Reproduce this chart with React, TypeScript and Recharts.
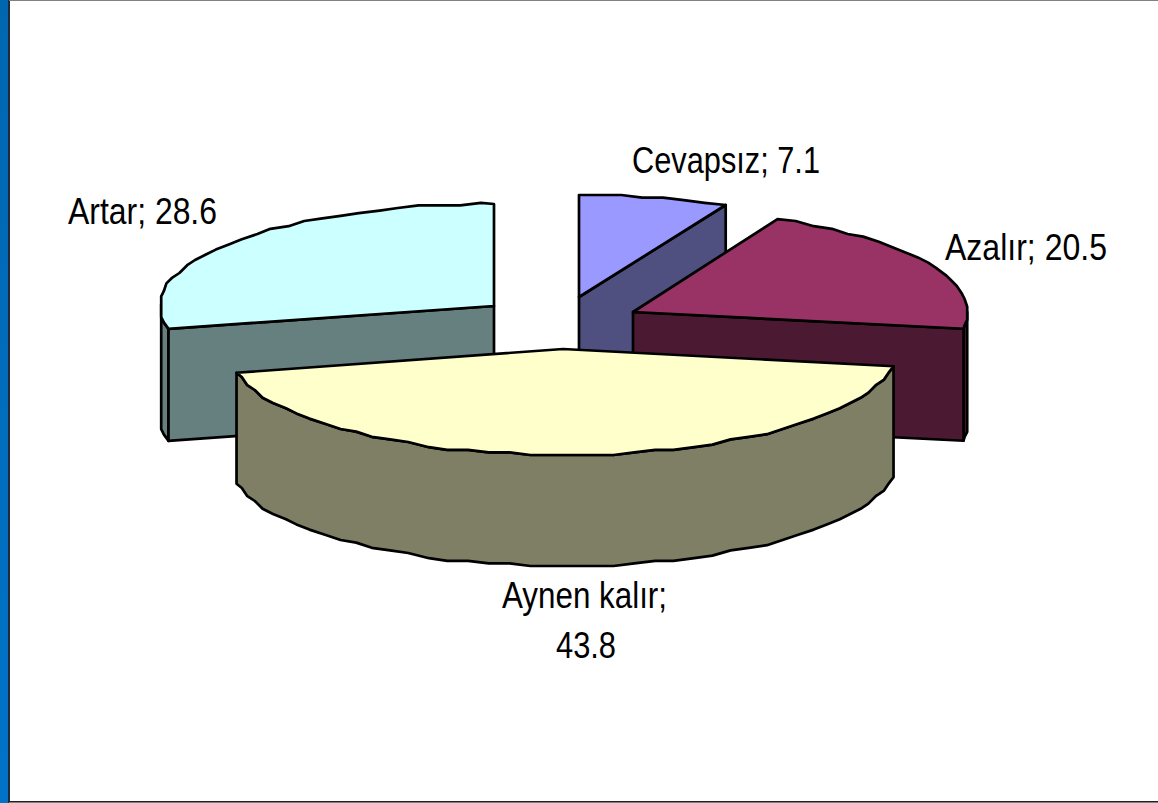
import React from "react";
import { PieChart, Pie } from "recharts";

// Drawn back to front, so the list begins with the slice that sits behind the large front slice.
const categories = ["Artar", "Cevapsız", "Azalır", "Aynen kalır"];
const shares = [28.6, 7.1, 20.5, 43.8];
const labelLines = [["Artar; 28.6"], ["Cevapsız; 7.1"], ["Azalır; 20.5"], ["Aynen kalır;", "43.8"]];

const data = categories.map((name, i) => ({ name, value: shares[i] }));

const W = 1158;
const H = 803;
const PIE_X = 563;
const PIE_Y = 349;
const RADIUS = 335;
const GRID = 2.6;
const STEP = 3.6;

const topColors = ["#CCFFFF", "#9999FF", "#993366", "#FFFFCC"];
const sideColors = ["#667F7F", "#4F4F80", "#4C1933", "#7F7F66"];

// Explosion offset and projected size per slice
const explode = [
  { dx: -69, dy: -43, rx: 334, ry: 102, depth: 112 },
  { dx: 16, dy: -52, rx: 340, ry: 102, depth: 112 },
  { dx: 70, dy: -37, rx: 335, ry: 103, depth: 112 },
  { dx: 0, dy: 0, rx: 335, ry: 106, depth: 111 },
];

const labelPlacement = [
  [{ x: 68, y: 224, w: 149 }],
  [{ x: 632, y: 173, w: 188 }],
  [{ x: 945, y: 260, w: 162 }],
  [
    { x: 502, y: 608, w: 165 },
    { x: 556, y: 658, w: 60 },
  ],
];

type P = [number, number];
const path = (pts: P[]) => "M" + pts.map((p) => `${p[0]},${p[1]}`).join("L") + "Z";

function Slice(props: any) {
  const { cx, cy, startAngle, endAngle, index } = props;
  const e = explode[index];
  const ox = cx + e.dx;
  const oy = cy + e.dy;
  // clockwise degrees from north
  const t0 = 90 - startAngle;
  const t1 = 90 - endAngle;
  const at = (t: number, snap: boolean): P => {
    const a = (t * Math.PI) / 180;
    const x = ox + e.rx * Math.sin(a);
    const y = oy - e.ry * Math.cos(a);
    return snap ? [Math.round(x / GRID) * GRID, Math.round(y / GRID) * GRID] : [x, y];
  };
  const angles: number[] = [];
  for (let t = t0; t < t1 - 1; t += STEP) angles.push(t);
  angles.push(t1);
  const rim: P[] = angles.map((t, i) => at(t, i !== 0 && i !== angles.length - 1));
  const apex: P = [ox, oy];
  const down = (p: P): P => [p[0], p[1] + e.depth];
  const stroke = { stroke: "#000", strokeWidth: 2.7, strokeLinejoin: "round" as const };
  const side = sideColors[index];

  const wallRim = rim.filter((_, i) => Math.cos((angles[i] * Math.PI) / 180) < 0.03);
  const startVisible = Math.sin((t0 * Math.PI) / 180) < -0.01;
  const endVisible = Math.sin((t1 * Math.PI) / 180) > 0.01;

  return (
    <g>
      {wallRim.length > 1 && (
        <path d={path([...wallRim, ...wallRim.map(down).reverse()])} fill={side} {...stroke} />
      )}
      {startVisible && (
        <path d={path([apex, rim[0], down(rim[0]), down(apex)])} fill={side} {...stroke} />
      )}
      {endVisible && (
        <path
          d={path([apex, rim[rim.length - 1], down(rim[rim.length - 1]), down(apex)])}
          fill={side}
          {...stroke}
        />
      )}
      <path d={path([apex, ...rim])} fill={topColors[index]} {...stroke} />
    </g>
  );
}

function SliceLabel(props: any) {
  const i = props.index;
  return (
    <g>
      {labelLines[i].map((line, k) => (
        <text
          key={k}
          x={labelPlacement[i][k].x}
          y={labelPlacement[i][k].y}
          textLength={labelPlacement[i][k].w}
          lengthAdjust="spacingAndGlyphs"
          fontFamily="'Liberation Sans', Arial, sans-serif"
          fontSize={37}
          fill="#000"
        >
          {line}
        </text>
      ))}
    </g>
  );
}

// The first slice starts where the series wraps: 360° minus its own share, clockwise from north.
const firstStart = 90 - (360 - (shares[0] / 100) * 360);

export default function App() {
  return (
    <div style={{ position: "absolute", left: 0, top: 0, width: W, height: H, overflow: "hidden", background: "#fff" }}>
      <div style={{ position: "absolute", left: 0, top: 0, width: 8, height: H, background: "linear-gradient(#0066B0, #0073C8)" }} />
      <div style={{ position: "absolute", left: 8, top: 0, width: 2, height: H, background: "#1F2A3A" }} />
      <div style={{ position: "absolute", left: 9, top: 0, width: W - 9, height: 1, background: "#808080" }} />
      <div style={{ position: "absolute", left: 9, top: 801, width: W - 9, height: 1, background: "#202020" }} />
      <div style={{ position: "absolute", left: 9, top: 802, width: W - 9, height: 1, background: "#808080" }} />
      <PieChart width={W} height={H} margin={{ top: 0, right: 0, bottom: 0, left: 0 }} style={{ position: "absolute", left: 0, top: 0 }}>
        <Pie
          data={data}
          dataKey="value"
          nameKey="name"
          cx={PIE_X}
          cy={PIE_Y}
          innerRadius={0}
          outerRadius={RADIUS}
          startAngle={firstStart}
          endAngle={firstStart - 360}
          paddingAngle={0}
          isAnimationActive={false}
          shape={Slice}
          label={SliceLabel}
          labelLine={false}
        />
      </PieChart>
    </div>
  );
}
